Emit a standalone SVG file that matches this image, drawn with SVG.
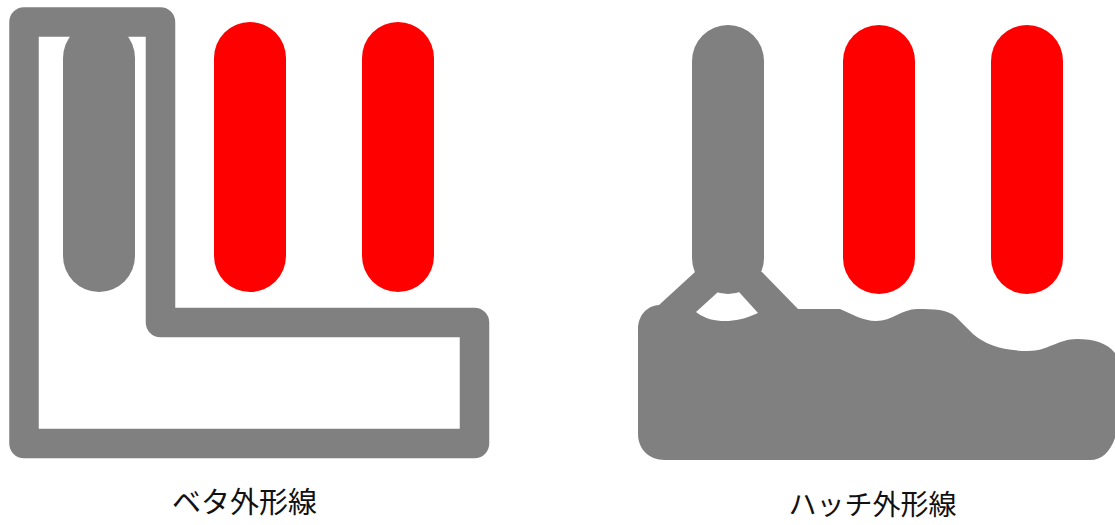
<svg xmlns="http://www.w3.org/2000/svg" width="1115" height="525" viewBox="0 0 1115 525">
<style>
.bar{fill:none;stroke-width:72;stroke-linecap:round}
.red{stroke:#ff0000}
.gray{stroke:#808080}
.lbl{font-family:"Noto Sans CJK JP","Noto Sans CJK SC",sans-serif;font-size:29px;fill:#111;text-anchor:middle}
</style>
<rect width="1115" height="525" fill="#fff"/>
<g id="solid-outline">
<path d="M24 22H160.500V322.500H474.500V443.500H24Z" fill="none" stroke="#808080" stroke-width="29.500" stroke-linejoin="round"/>
<line class="bar gray" x1="99" y1="58" x2="99" y2="256"/>
<line class="bar red" x1="250" y1="58" x2="250" y2="256"/>
<line class="bar red" x1="398" y1="58" x2="398" y2="256"/>
<text class="lbl" x="244.500" y="513">ベタ外形線</text>
</g>
<g id="hatch-outline">
<line class="bar gray" x1="728" y1="61" x2="728" y2="258"/>
<line class="bar red" x1="879" y1="61" x2="879" y2="258"/>
<line class="bar red" x1="1027" y1="61" x2="1027" y2="258"/>
<path fill-rule="evenodd" fill="#808080" d="M638 330C638 316 646 306 659 305L695 272H762L798 309H840C852 314 863 321 876 321C892 321 902 309 917 309C934 309 947 309 956 317L973 334C985 345 1005 351 1028 351C1048 351 1058 339 1077 339C1094 339 1107 343 1115 353V438C1110 452 1102 460 1090 460H665C648 460 638 448 638 434Z M718 292H739L758 313C745 319 735 321 725 321C715 321 705 319 696 312Z"/>
<text class="lbl" x="872.500" y="515" style="font-size:28px">ハッチ外形線</text>
</g>
</svg>
